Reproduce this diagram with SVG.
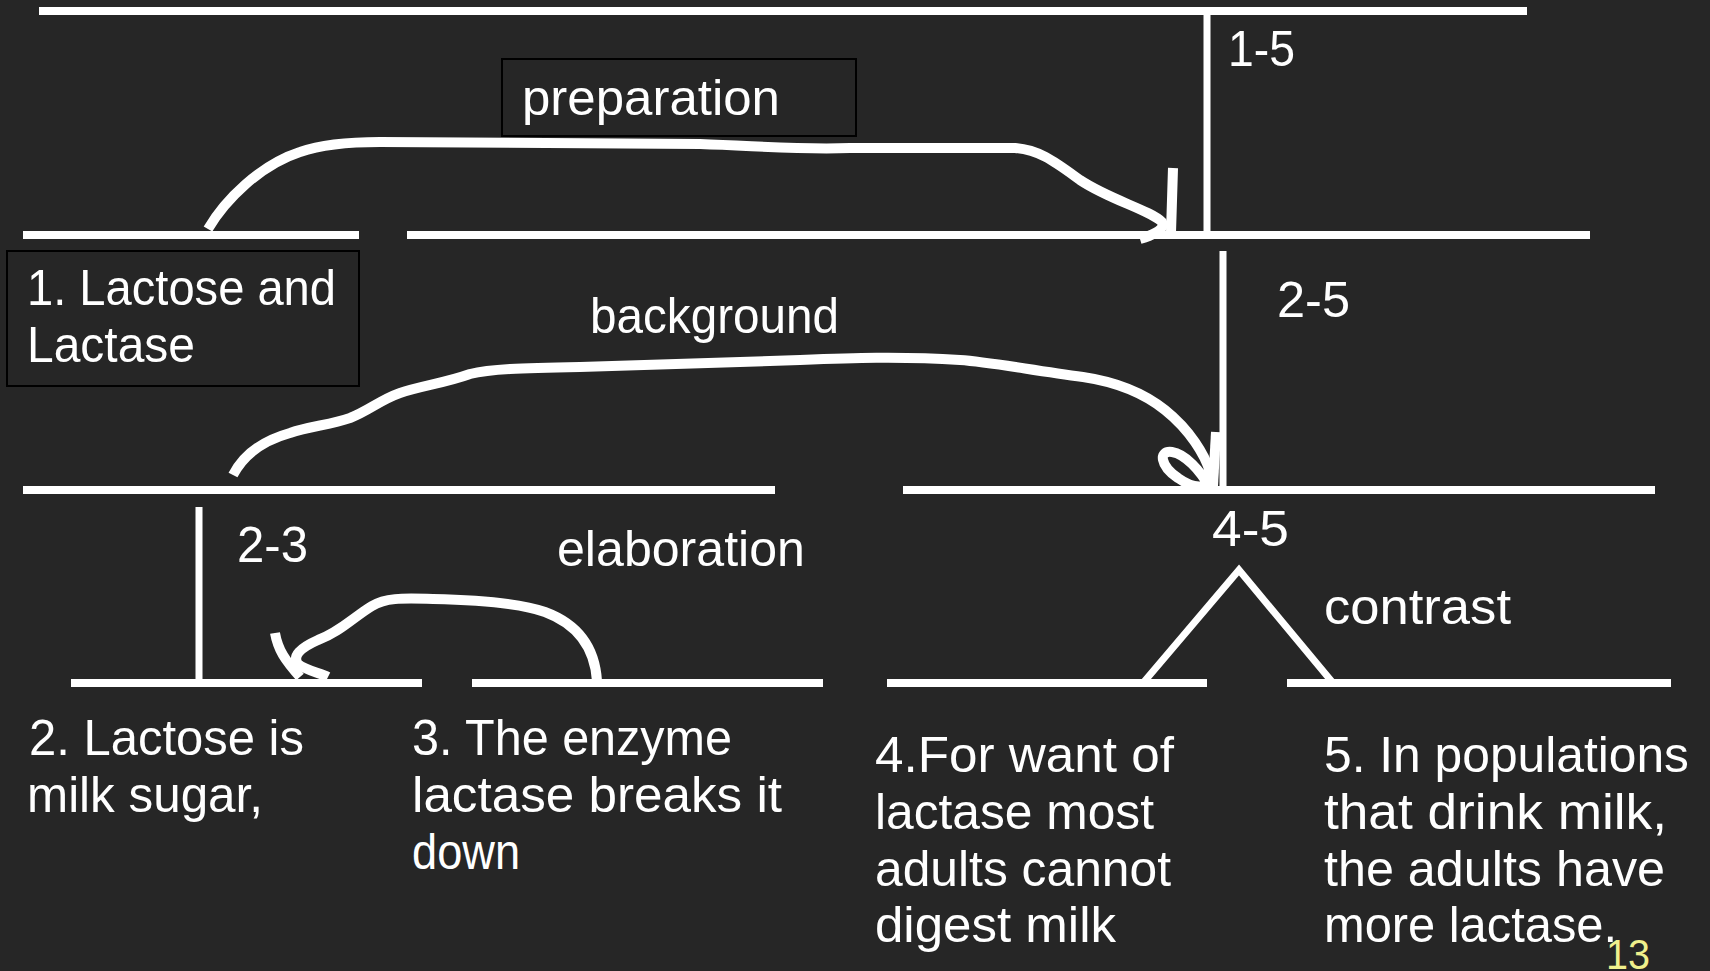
<svg xmlns="http://www.w3.org/2000/svg" width="1710" height="971" viewBox="0 0 1710 971">
<style>
.t{font-family:"Liberation Sans",Arial,sans-serif;font-size:50px;fill:#ffffff;}
.ln{stroke:#ffffff;stroke-width:8;fill:none;}
.vl{stroke:#ffffff;stroke-width:7;fill:none;}
.cv{stroke:#ffffff;stroke-width:10;fill:none;stroke-linecap:butt;stroke-linejoin:round;}
.box{fill:none;stroke:#000000;stroke-width:2;}
</style>
<rect x="0" y="0" width="1710" height="971" fill="#262626"/>
<g id="rst-structure">
<line class="ln" x1="39" y1="11" x2="1527" y2="11"/>
<line class="vl" x1="1207" y1="11" x2="1207" y2="235"/>
<line class="ln" x1="23" y1="235" x2="359" y2="235"/>
<line class="ln" x1="407" y1="235" x2="1590" y2="235"/>
<line class="vl" x1="1223" y1="251" x2="1223" y2="490"/>
<line class="ln" x1="23" y1="490" x2="775" y2="490"/>
<line class="ln" x1="903" y1="490" x2="1655" y2="490"/>
<line class="vl" x1="199" y1="507" x2="199" y2="683"/>
<line class="ln" x1="71" y1="683" x2="422" y2="683"/>
<line class="ln" x1="472" y1="683" x2="823" y2="683"/>
<line class="ln" x1="887" y1="683" x2="1207" y2="683"/>
<line class="ln" x1="1287" y1="683" x2="1671" y2="683"/>
<polyline class="vl" points="1143,683 1239,570 1333,683"/>
</g>
<g id="connectors">
<path class="cv" d="M208,229 C225,200 260,165 300,152 C320,145 345,142 380,142 L700,144 C760,146 800,150 850,148 L1015,148 C1040,150 1055,162 1080,180 C1110,200 1150,210 1162,222 C1166,230 1150,236 1140,239"/>
<path class="cv" stroke-width="11" d="M1173,168 L1171,232"/>
<path class="cv" d="M233,475 C245,452 265,440 290,433 C310,426 330,425 350,418 C370,410 380,400 400,393 C420,386 445,383 470,374 C490,369 520,368 580,367 L800,360 C850,358 900,356 960,360 C990,362 1030,370 1083,377 C1110,381 1140,390 1165,410 C1190,430 1205,455 1210,472 C1213,490 1195,490 1178,478 C1160,466 1158,450 1172,452 C1185,454 1200,470 1210,488"/>
<path class="cv" stroke-width="11" d="M1216,432 L1213,486"/>
<path class="cv" d="M597,681 C595,650 580,625 545,612 C520,603 480,600 433,599 C400,598 385,598 372,606 C355,616 340,632 318,640 C300,648 292,656 298,664 C305,670 320,673 328,677"/>
<path class="cv" d="M275,633 C278,650 285,660 300,677"/>
</g>
<g id="label-preparation">
<rect class="box" x="502" y="59" width="354" height="77"/>
<text class="t" x="522" y="115" textLength="258" lengthAdjust="spacingAndGlyphs">preparation</text>
</g>
<g id="node-1">
<rect class="box" x="7" y="251" width="352" height="135"/>
<text class="t" x="27" y="305" textLength="309" lengthAdjust="spacingAndGlyphs">1. Lactose and</text>
<text class="t" x="27" y="362" textLength="168" lengthAdjust="spacingAndGlyphs">Lactase</text>
</g>
<g id="label-background"><text class="t" x="590" y="333" textLength="249" lengthAdjust="spacingAndGlyphs">background</text></g>
<g id="label-1-5"><text class="t" x="1228" y="66" textLength="67" lengthAdjust="spacingAndGlyphs">1-5</text></g>
<g id="label-2-5"><text class="t" x="1277" y="317" textLength="73" lengthAdjust="spacingAndGlyphs">2-5</text></g>
<g id="label-2-3"><text class="t" x="237" y="562" textLength="71" lengthAdjust="spacingAndGlyphs">2-3</text></g>
<g id="label-elaboration"><text class="t" x="557" y="566" textLength="248" lengthAdjust="spacingAndGlyphs">elaboration</text></g>
<g id="label-4-5"><text class="t" x="1212" y="546" textLength="77" lengthAdjust="spacingAndGlyphs">4-5</text></g>
<g id="label-contrast"><text class="t" x="1324" y="624" textLength="187" lengthAdjust="spacingAndGlyphs">contrast</text></g>
<g id="node-2">
<text class="t" x="29" y="755" textLength="275" lengthAdjust="spacingAndGlyphs">2. Lactose is</text>
<text class="t" x="27" y="812" textLength="236" lengthAdjust="spacingAndGlyphs">milk sugar,</text>
</g>
<g id="node-3">
<text class="t" x="412" y="755" textLength="320" lengthAdjust="spacingAndGlyphs">3. The enzyme</text>
<text class="t" x="412" y="812" textLength="370" lengthAdjust="spacingAndGlyphs">lactase breaks it</text>
<text class="t" x="412" y="869" textLength="108" lengthAdjust="spacingAndGlyphs">down</text>
</g>
<g id="node-4">
<text class="t" x="875" y="772" textLength="299" lengthAdjust="spacingAndGlyphs">4.For want of</text>
<text class="t" x="875" y="829" textLength="279" lengthAdjust="spacingAndGlyphs">lactase most</text>
<text class="t" x="875" y="886" textLength="296" lengthAdjust="spacingAndGlyphs">adults cannot</text>
<text class="t" x="875" y="942" textLength="241" lengthAdjust="spacingAndGlyphs">digest milk</text>
</g>
<g id="node-5">
<text class="t" x="1324" y="772" textLength="365" lengthAdjust="spacingAndGlyphs">5. In populations</text>
<text class="t" x="1324" y="829" textLength="343" lengthAdjust="spacingAndGlyphs">that drink milk,</text>
<text class="t" x="1324" y="886" textLength="341" lengthAdjust="spacingAndGlyphs">the adults have</text>
<text class="t" x="1324" y="942" textLength="293" lengthAdjust="spacingAndGlyphs">more lactase.</text>
</g>
<g id="page-number"><text x="1606" y="969" font-family="'Liberation Sans',sans-serif" font-size="42" fill="#f0f08c" textLength="44" lengthAdjust="spacingAndGlyphs">13</text></g>
</svg>
